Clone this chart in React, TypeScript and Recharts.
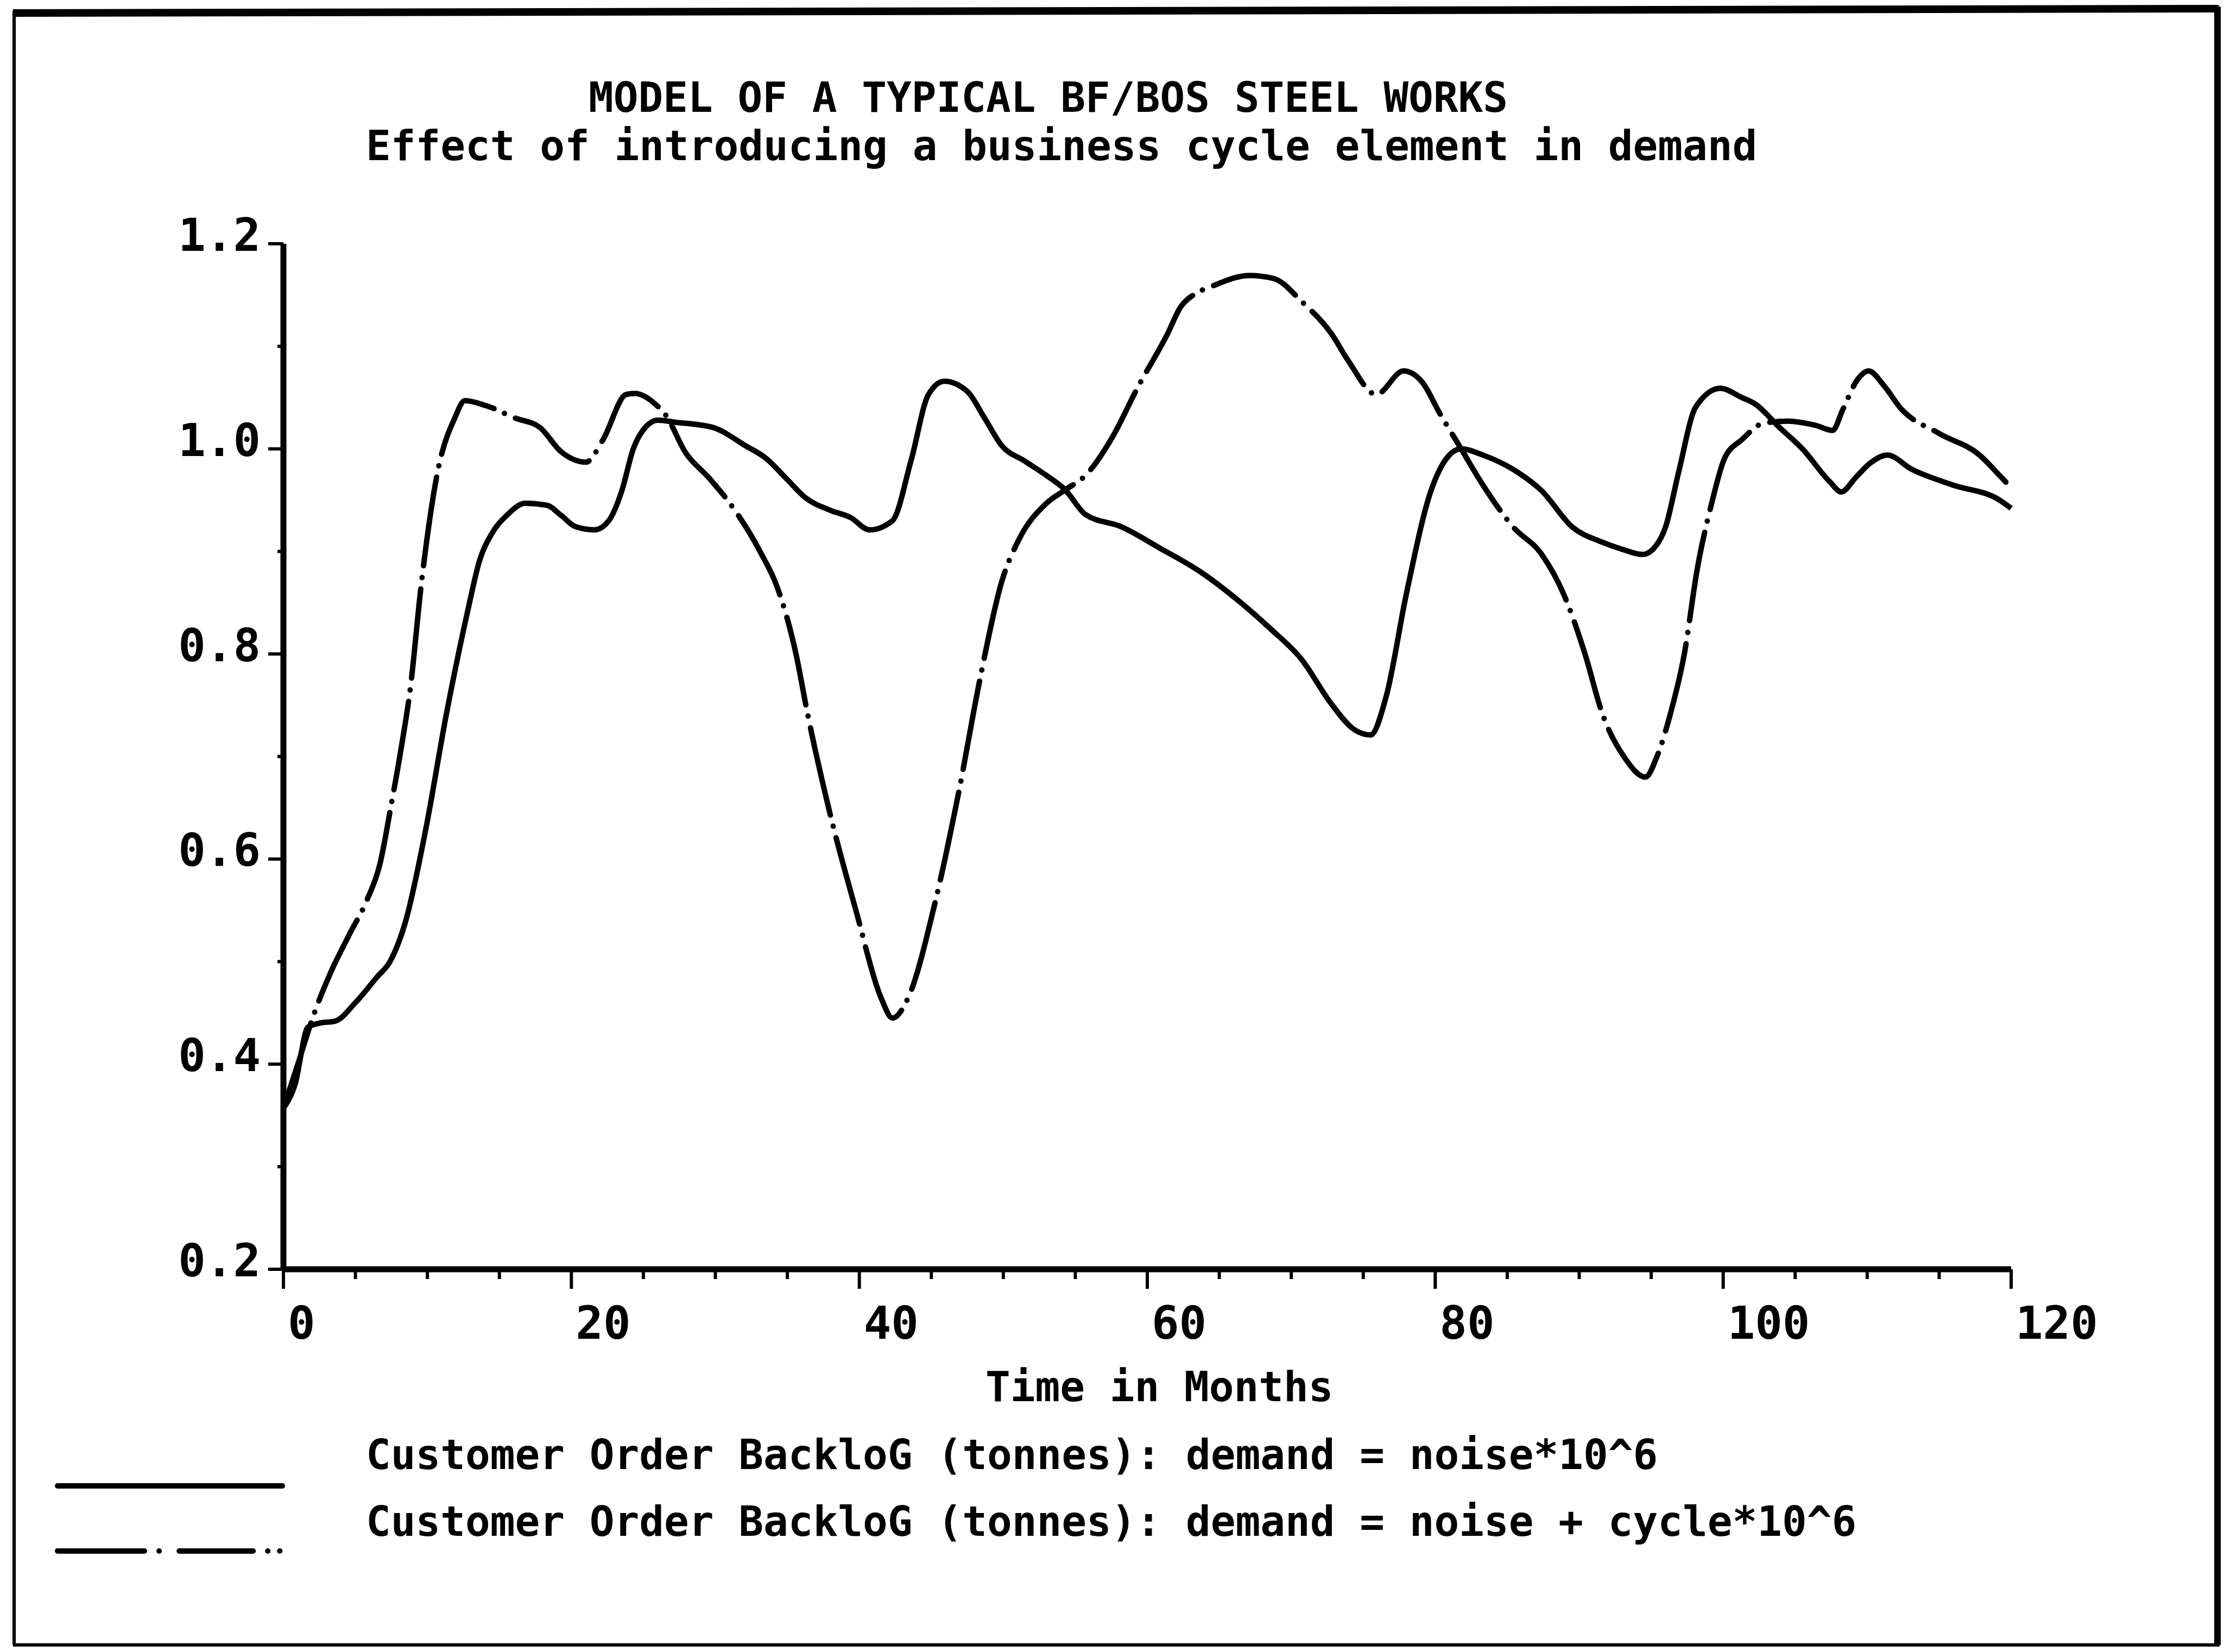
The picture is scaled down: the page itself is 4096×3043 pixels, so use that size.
import { LineChart, Line, XAxis, YAxis } from 'recharts'

const W = 4096
const H = 3043
const FONT = '"DejaVu Sans Mono", "Liberation Mono", monospace'

// customer order backlog, demand = noise only (solid)
const noiseMonths = [
  0, 0.8, 1.7, 2.5, 3.6, 5, 6.5, 7.4, 8.5, 9.9, 11.3, 12.8, 13.6, 14.5, 15.5, 16.8, 18.3, 19.3, 20.3, 21.6,
  22.6, 23.5, 24.3, 25.2, 26, 27.2, 29.8, 32.1, 33.5, 35, 36.2, 38, 39.4, 40.7, 42.3, 43.6, 44.8, 45.9,
  47.5, 48.7, 49.9, 51.5, 53, 54.3, 55.7, 58.2, 60.9, 63.7, 66.5, 68.6, 70.7, 72.8, 74.3, 75.5, 76.6, 78,
  79.7, 80.8, 81.8, 83.3, 85.4, 87.4, 89.5, 91.6, 93, 94.4, 95.3, 96, 96.9, 98.1, 99.8, 101.3, 102.2,
  103.9, 105.5, 107.4, 108.2, 109.2, 110.2, 111.4, 113.1, 115.9, 119.2, 120,
]
const noiseBacklog = [
  0.357, 0.38, 0.436, 0.44, 0.442, 0.46, 0.485, 0.5, 0.54, 0.63, 0.74, 0.842, 0.89, 0.918, 0.935, 0.947, 0.945, 0.935, 0.924, 0.921,
  0.93, 0.959, 1.0, 1.022, 1.028, 1.026, 1.021, 1.003, 0.991, 0.97, 0.953, 0.94, 0.933, 0.921, 0.93, 0.989, 1.053, 1.066,
  1.056, 1.03, 1.003, 0.988, 0.974, 0.96, 0.936, 0.924, 0.903, 0.88, 0.85, 0.824, 0.795, 0.751, 0.727, 0.721, 0.759, 0.859,
  0.959, 0.991, 1.0, 0.994, 0.98, 0.959, 0.924, 0.909, 0.902, 0.897, 0.905, 0.924, 0.977, 1.041, 1.059, 1.05, 1.044,
  1.021, 1.0, 0.968, 0.958, 0.972, 0.986, 0.994, 0.98, 0.965, 0.95, 0.942,
]

// customer order backlog, demand = noise + cycle (dash-dot)
const cycleMonths = [
  0, 1, 2.1, 3.3, 4.6, 5.8, 6.7, 7.5, 8.2, 8.8, 9.6, 10.7, 11.9, 12.6, 14.1, 16.1, 17.8, 19.3, 21, 22.2,
  23.8, 24.4, 25.8, 26.6, 27.9, 29.6, 31, 33.1, 34.3, 35.6, 36.4, 37.9, 39.8, 41.5, 42.3, 43.4, 45.2, 46.9,
  48.4, 49.9, 51.1, 53, 54.3, 55.7, 57.6, 59.3, 61.4, 62.3, 63.3, 64.4, 67.1, 68.8, 70.7, 72.8, 74, 75.9,
  77.8, 79.1, 80.3, 81.8, 83.3, 85.4, 87.4, 88.9, 90.4, 91.6, 93.1, 94.6, 95.4, 96.3, 97.3, 98.2, 99.2,
  100.1, 101.3, 102.8, 104.5, 106.4, 107.6, 108.3, 109.3, 110.1, 111.2, 112.3, 115, 117.8, 119.2, 120,
]
const cycleBacklog = [
  0.357, 0.4, 0.448, 0.49, 0.527, 0.56, 0.595, 0.654, 0.71, 0.765, 0.871, 0.977, 1.03, 1.047, 1.042, 1.03, 1.021, 0.997, 0.987, 1.009,
  1.053, 1.054, 1.044, 1.032, 0.997, 0.971, 0.947, 0.9, 0.865, 0.8, 0.742, 0.648, 0.548, 0.465, 0.445, 0.465, 0.554, 0.665,
  0.777, 0.871, 0.912, 0.947, 0.96, 0.974, 1.012, 1.059, 1.112, 1.138, 1.151, 1.158, 1.169, 1.166, 1.144, 1.112, 1.085, 1.053,
  1.076, 1.065, 1.035, 1.0, 0.965, 0.924, 0.897, 0.859, 0.8, 0.742, 0.7, 0.68, 0.7, 0.74, 0.8, 0.883, 0.947,
  0.991, 1.009, 1.025, 1.027, 1.023, 1.018, 1.038, 1.067, 1.076, 1.061, 1.04, 1.015, 0.994, 0.974, 0.962,
]

const monthTicks = [0, 5, 10, 15, 20, 25, 30, 35, 40, 45, 50, 55, 60, 65, 70, 75, 80, 85, 90, 95, 100, 105, 110, 115, 120]
const backlogTicks = [0.2, 0.3, 0.4, 0.5, 0.6, 0.7, 0.8, 0.9, 1.0, 1.1, 1.2]

const noiseData = noiseMonths.map((t, i) => ({ t, v: noiseBacklog[i] }))
const cycleData = cycleMonths.map((t, i) => ({ t, v: cycleBacklog[i] }))

const DASH_DOT = '165 21 0.1 22'

function MonthTick({ x, y, payload }: any) {
  const v = payload.value
  const major = v % 20 === 0
  return (
    <g>
      <line x1={x} x2={x} y1={y} y2={y + (major ? 36 : 18)} stroke="#000" strokeWidth={6} />
      {major && (
        <text x={x + 8} y={y + 128} fontFamily={FONT} fontWeight="bold" fontSize={84} fill="#000">
          {v}
        </text>
      )}
    </g>
  )
}

function BacklogTick({ x, y, payload }: any) {
  const v = payload.value
  const major = Math.round(v * 10) % 2 === 0
  return (
    <g>
      <line x1={x - (major ? 28 : 11)} x2={x} y1={y} y2={y} stroke="#000" strokeWidth={6} />
      {major && (
        <text x={x - 42} y={y + 13} textAnchor="end" fontFamily={FONT} fontWeight="bold" fontSize={84} fill="#000">
          {v.toFixed(1)}
        </text>
      )}
    </g>
  )
}

function Overlay() {
  const txt = { fontFamily: FONT, fontWeight: 'bold' as const, fontSize: 76, fill: '#000' }
  return (
    <svg width={W} height={H} style={{ position: 'absolute', left: 0, top: 0, pointerEvents: 'none' }}>
      {/* frame */}
      <line x1={24} x2={4086} y1={24} y2={16} stroke="#000" strokeWidth={14} />
      <line x1={26} x2={26} y1={20} y2={3030} stroke="#000" strokeWidth={6} />
      <line x1={4084} x2={4084} y1={12} y2={3030} stroke="#000" strokeWidth={12} />
      <line x1={24} x2={4088} y1={3030} y2={3030} stroke="#000" strokeWidth={6} />

      <text x={1084} y={206} {...txt}>MODEL OF A TYPICAL BF/BOS STEEL WORKS</text>
      <text x={674} y={295} {...txt}>Effect of introducing a business cycle element in demand</text>
      <text x={1815} y={2581} {...txt}>Time in Months</text>

      <line x1={106} x2={520} y1={2737} y2={2737} stroke="#000" strokeWidth={10} strokeLinecap="round" />
      <text x={674} y={2706} {...txt}>Customer Order BackloG (tonnes): demand = noise*10^6</text>
      <line
        x1={106}
        x2={522}
        y1={2857}
        y2={2857}
        stroke="#000"
        strokeWidth={10}
        strokeLinecap="round"
        strokeDasharray="160 27 0.1 37 136 27 0.1 22 0.1 200"
      />
      <text x={674} y={2829} {...txt}>Customer Order BackloG (tonnes): demand = noise + cycle*10^6</text>
    </svg>
  )
}

export default function App() {
  return (
    <div style={{ position: 'relative', width: W, height: H, background: '#fff', overflow: 'hidden' }}>
      <style>{'body{margin:0}'}</style>
      <LineChart width={W} height={H} margin={{ top: 449, right: 392, bottom: 704, left: 521 }}>
        <XAxis
          dataKey="t"
          type="number"
          domain={[0, 120]}
          ticks={monthTicks}
          interval={0}
          height={1}
          tickSize={0}
          tickMargin={0}
          tickLine={false}
          tick={<MonthTick />}
          axisLine={{ stroke: '#000', strokeWidth: 11 }}
        />
        <YAxis
          type="number"
          domain={[0.2, 1.2]}
          ticks={backlogTicks}
          interval={0}
          width={1}
          tickSize={0}
          tickMargin={0}
          tickLine={false}
          tick={<BacklogTick />}
          axisLine={{ stroke: '#000', strokeWidth: 11 }}
        />
        <Line
          data={noiseData}
          dataKey="v"
          type="monotone"
          stroke="#000"
          strokeWidth={10}
          dot={false}
          isAnimationActive={false}
        />
        <Line
          data={cycleData}
          dataKey="v"
          type="monotone"
          stroke="#000"
          strokeWidth={10}
          strokeLinecap="round"
          strokeDasharray={DASH_DOT}
          dot={false}
          isAnimationActive={false}
        />
      </LineChart>
      <Overlay />
    </div>
  )
}
